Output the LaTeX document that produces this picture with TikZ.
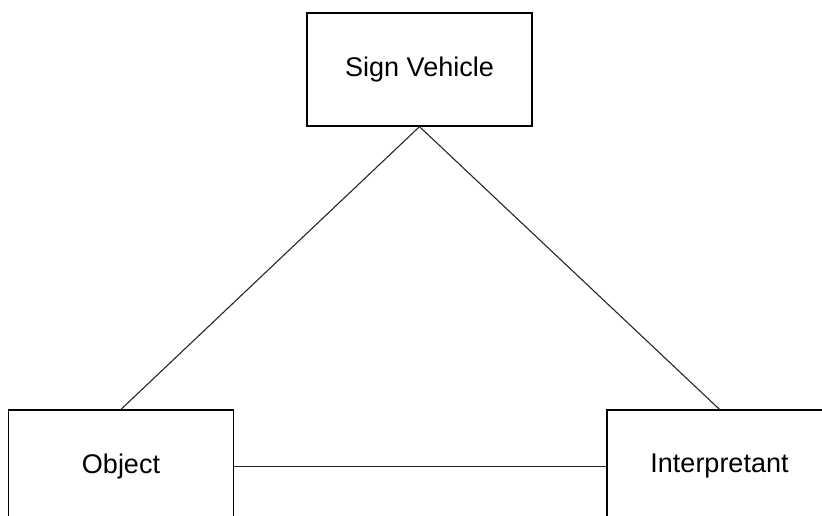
\documentclass[tikz,border=0pt]{standalone}
\usepackage{fontspec}
\setmainfont{Liberation Sans}
\begin{document}
\begin{tikzpicture}[
    x=1pt, y=-1pt,
    term/.style={rectangle, draw, fill=white, line width=1.3pt, minimum width=225pt, minimum height=113pt, align=center, font=\fontsize{27}{32}\selectfont},
    link/.style={line width=1.1pt, draw=black!85}
]
    % Page size
    \useasboundingbox (0,0) rectangle (822,515);
    \clip (0,0) rectangle (822,515);

    % Links of the triad
    \coordinate (svc) at (419.5, 69.5);
    \coordinate (obc) at (121, 466.5);
    \coordinate (inc) at (719.5, 466.5);

    % The three terms
    \node[term] (sv) at (svc) {Sign Vehicle};
    \node[term] (obj) at (obc) {Object};
    \node[term] (int) at (inc) {Interpretant};

    % Connectors
    \draw[link] (sv.south) -- (obj.north);
    \draw[link] (sv.south) -- (int.north);
    \draw[link] (obj.east) -- (int.west);
\end{tikzpicture}
\end{document}
